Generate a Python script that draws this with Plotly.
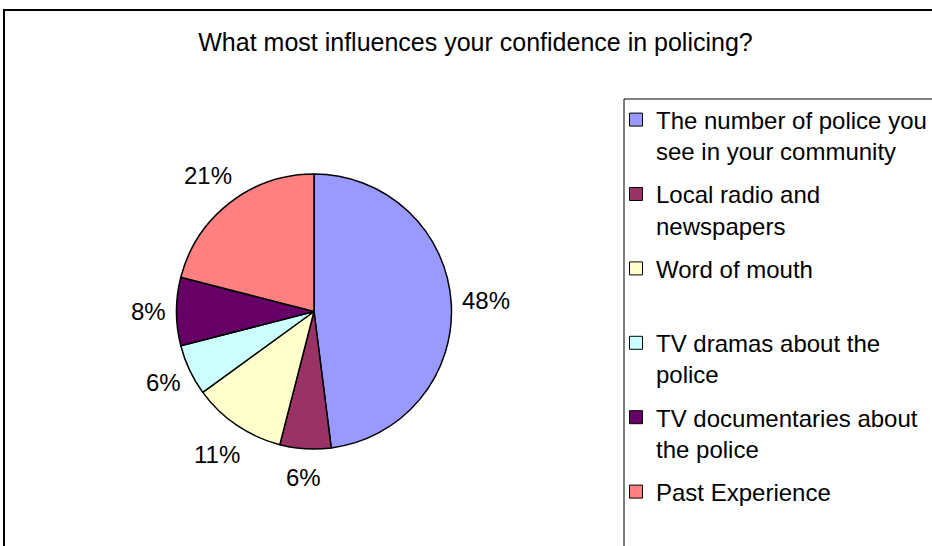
import math
import plotly.graph_objects as go

# Survey responses (percent of respondents)
categories = [
    "The number of police you<br>see in your community",
    "Local radio and<br>newspapers",
    "Word of mouth<br>&nbsp;",
    "TV dramas about the<br>police",
    "TV documentaries about<br>the police",
    "Past Experience",
]
shares = [48, 6, 11, 6, 8, 21]
colors = ["#9999FF", "#993366", "#FFFFCC", "#CCFFFF", "#660066", "#FF8080"]

W, H = 932, 546
FONT = "Liberation Sans, Arial, sans-serif"
FS = 24

# pie placement in pixels -> paper coordinates
cx, cy, r = 314, 311.5, 137.5

fig = go.Figure()
fig.add_trace(
    go.Pie(
        labels=categories,
        values=shares,
        sort=False,
        direction="clockwise",
        rotation=0,
        marker=dict(colors=colors, line=dict(color="black", width=1.5)),
        textinfo="none",
        domain=dict(
            x=[(cx - r) / W, (cx + r) / W],
            y=[1 - (cy + r) / H, 1 - (cy - r) / H],
        ),
        showlegend=False,
        hoverinfo="label+percent",
    )
)

# percentage labels set just outside the rim at each slice's mid-angle
total = sum(shares)
annotations = []
cum = 0.0
for v in shares:
    mid = 2 * math.pi * (cum + v / 2) / total
    cum += v
    text = f"{round(100 * v / total)}%"
    half_w = FS * (0.556 * (len(text) - 1) + 0.889) / 2
    d = r + 11 + half_w
    px = cx + d * math.sin(mid)
    py = cy - d * math.cos(mid)
    annotations.append(
        dict(
            x=px / W, y=1 - py / H, xref="paper", yref="paper",
            text=text, showarrow=False, xanchor="center", yanchor="middle",
            font=dict(family=FONT, size=FS, color="black"),
        )
    )

# legend entries: one empty trace per category so the entries can be spaced
for name, col in zip(categories, colors):
    fig.add_trace(
        go.Scatter(
            x=[None],
            y=[None],
            mode="markers",
            name=name,
            legendgroup=name,
            marker=dict(symbol="square", size=13, color=col, line=dict(color="black", width=1)),
            hoverinfo="skip",
        )
    )

fig.update_layout(
    width=W,
    height=H,
    margin=dict(l=0, r=0, t=0, b=0),
    paper_bgcolor="white",
    plot_bgcolor="white",
    font=dict(family=FONT, color="black"),
    xaxis=dict(visible=False),
    yaxis=dict(visible=False),
    annotations=annotations,
    title=dict(
        text="What most influences your confidence in policing?",
        x=475.5 / W,
        xanchor="center",
        y=1 - 42 / H,
        yanchor="middle",
        font=dict(family=FONT, size=25, color="black"),
    ),
    legend=dict(
        x=616 / W,
        y=1 - 97.5 / H,
        xanchor="left",
        yanchor="top",
        borderwidth=0,
        bgcolor="rgba(0,0,0,0)",
        font=dict(family=FONT, size=FS, color="black"),
        valign="top",
        traceorder="grouped",
        tracegroupgap=9,
        itemclick=False,
        itemdoubleclick=False,
    ),
    shapes=[
        # chart frame
        dict(
            type="rect", xref="paper", yref="paper",
            x0=4 / W, x1=1.05, y0=-0.05, y1=1 - 10 / H,
            line=dict(color="black", width=2),
            fillcolor="rgba(0,0,0,0)", layer="below",
        ),
        # legend frame
        dict(
            type="rect", xref="paper", yref="paper",
            x0=624 / W, x1=1.05, y0=-0.05, y1=1 - 99 / H,
            line=dict(color="black", width=1),
            fillcolor="rgba(0,0,0,0)", layer="below",
        ),
    ],
)

fig.write_html("out.html")
